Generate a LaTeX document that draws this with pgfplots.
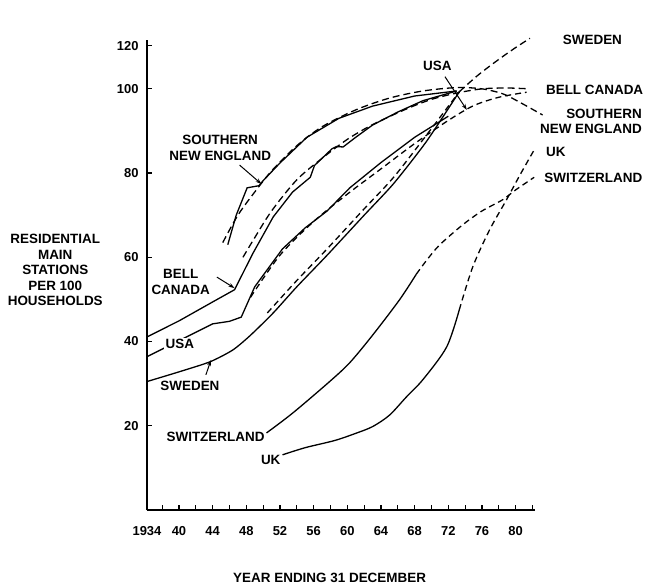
\documentclass[border=0pt]{standalone}
\usepackage{pgfplots}
\pgfplotsset{compat=1.18}
\usepackage{fontspec}
\setmainfont{Liberation Sans}
\usetikzlibrary{arrows.meta}
\begin{document}
\begin{tikzpicture}[font=\bfseries\fontsize{13.5}{15.5}\selectfont]
\useasboundingbox (-147bp,-77bp) rectangle (505bp,510bp);
\begin{axis}[
  at={(0,0)}, anchor=south west,
  scale only axis, width=388bp, height=470bp,
  xmin=1936.2, xmax=1982.3, ymin=0, ymax=111.6,
  axis x line*=bottom, axis y line*=left,
  axis line style={line width=1.3bp},
  clip=false,
  xtick={1936.2,1940,1944,1948,1952,1956,1960,1964,1968,1972,1976,1980},
  xticklabels={1934,40,44,48,52,56,60,64,68,72,76,80},
  minor xtick={1938,1942,1946,1950,1954,1958,1962,1966,1970,1974,1978,1982},
  ytick={20,40,60,80,100,110.2},
  yticklabels={20,40,60,80,100,120},
  tick align=inside,
  major tick length=5bp, minor tick length=5bp,
  every tick/.style={black, line width=1.2bp},
  xticklabel style={yshift=-13bp, font=\bfseries\fontsize{13}{15}\selectfont},
  yticklabel style={xshift=-5bp, font=\bfseries\fontsize{13}{15}\selectfont},
  cycle list={{black,solid}},
  every axis plot/.append style={black, line width=1.3bp, no markers},
]
% ---------- Sweden ----------
\addplot[solid, smooth, tension=0.4] coordinates {(1936.2,30.5) (1940,32.8) (1943.7,35.2) (1946.4,38) (1948.5,41.5) (1951.2,46.8) (1954,53) (1957.6,60.5) (1962,70) (1965.5,77.5) (1969.4,87.5) (1973.3,99.3)};
\addplot[dash pattern=on 6bp off 4bp, smooth] coordinates {(1950.5,46.8) (1954,54.5) (1957.6,62) (1962,71.5) (1965.5,79) (1969.4,89) (1973.3,99.3)};
\addplot[dash pattern=on 7bp off 4bp, smooth] coordinates {(1973.3,99.3) (1975.5,103.2) (1978,107) (1980,109.8) (1981.7,112)};
% ---------- USA ----------
\addplot[solid] coordinates {(1936.2,36.4) (1940,40.2) (1944,44.2) (1946,44.8) (1947.4,45.8) (1949,53) (1952.3,62) (1955,67) (1957.6,71) (1960.3,76.5) (1964,82.5) (1968,88.5) (1972,93.5)};
\addplot[dash pattern=on 6bp off 4bp, smooth] coordinates {(1948.5,50.5) (1952,60.5) (1956,68.5) (1960,75) (1964,81) (1968,87) (1972,92.5) (1975,96) (1978,98) (1981.3,99.2)};
% ---------- Bell Canada ----------
\addplot[solid] coordinates {(1936.2,41.1) (1940,44.9) (1944,49.4) (1946.6,52.3) (1948.8,61) (1951.2,69.6) (1953.5,75.5) (1955.6,79) (1956.1,81.8) (1958.2,85.8) (1958.7,86.3) (1959.5,86.2) (1961,88.5) (1963,91.4) (1966,94.5) (1969,97.2) (1973,99.5)};
\addplot[dash pattern=on 7bp off 4bp, smooth] coordinates {(1947.6,60) (1948.8,64) (1951,71) (1954,78.4) (1957,83.5) (1960,88) (1963,91.5) (1967,95.2) (1970,97.5) (1973,99) (1976,100) (1979,100.2) (1981.6,100)};
% ---------- Southern New England ----------
\addplot[solid] coordinates {(1945.8,63) (1946.8,70) (1948.1,76.5) (1949.5,77) (1950,78.2) (1952,82.4) (1955.2,88.5) (1959,93) (1963,95.9) (1968,98.3) (1973,99.5)};
\addplot[dash pattern=on 7bp off 4bp, smooth] coordinates {(1945.2,63.5) (1947,70) (1949,75.5) (1951,80.5) (1954,86.5) (1957,91) (1961,95) (1965,97.8) (1969,99.5) (1973,100.3) (1976,100) (1978.5,98.8) (1980.5,96.8) (1983.2,93.8)};
% ---------- Switzerland ----------
\addplot[solid, smooth] coordinates {(1950.4,18.3) (1953.5,23) (1957.9,30.5) (1960.3,35) (1963,41.5) (1966.2,49.9) (1968.2,56)};
\addplot[dash pattern=on 6bp off 4bp, smooth] coordinates {(1968.2,56) (1969.5,59.5) (1971,63) (1973.7,67.7) (1976,71) (1978.4,73.6) (1980,76) (1982.2,79)};
% ---------- UK ----------
\addplot[solid, smooth] coordinates {(1952.3,13.1) (1955,14.8) (1958.5,16.5) (1961,18.2) (1963,19.8) (1965,22.5) (1967,26.8) (1969,31) (1971.8,38.7) (1973.3,47.5)};
\addplot[dash pattern=on 6bp off 4bp, smooth] coordinates {(1973.3,47.5) (1974.9,57.7) (1976.9,66.5) (1978.9,73.6) (1980.5,79.5) (1982.2,85.5)};
% ---------- labels ----------
\node[align=center] at (axis cs:1944.9,86) {SOUTHERN\\NEW ENGLAND};
\draw[line width=1bp,-{Stealth[length=6bp,width=4bp]}] (axis cs:1947.2,81.9) -- (axis cs:1949.8,77.4);
\node[align=center] at (axis cs:1940.2,54.2) {BELL\\CANADA};
\draw[line width=1bp,-{Stealth[length=6bp,width=4bp]}] (axis cs:1944.5,55.3) -- (axis cs:1946.6,52.7);
\node[fill=white, inner sep=1.5bp] at (axis cs:1940.1,39.4) {USA};
\node at (axis cs:1941.3,29.5) {SWEDEN};
\draw[line width=1bp,-{Stealth[length=6bp,width=4bp]}] (axis cs:1943.2,32.1) -- (axis cs:1943.8,35.6);
\node[anchor=east, inner sep=1bp] at (axis cs:1950.3,17.3) {SWITZERLAND};
\node[anchor=east, inner sep=1bp] at (axis cs:1952.2,11.9) {UK};
\node at (axis cs:1970.7,105.5) {USA};
\draw[line width=1bp,-{Stealth[length=6bp,width=4bp]}] (axis cs:1971.6,102.9) -- (axis cs:1974.2,95);
\node[anchor=west] at (axis cs:1985.2,111.6) {SWEDEN};
\node[anchor=west] at (axis cs:1983.2,99.8) {BELL CANADA};
\node[anchor=east, align=right] at (axis cs:1995.4,92.3) {SOUTHERN\\NEW ENGLAND};
\node[anchor=west] at (axis cs:1983.2,85) {UK};
\node[anchor=west] at (axis cs:1983.0,78.9) {SWITZERLAND};
\node[align=center] at (axis cs:1925.3,57) {RESIDENTIAL\\MAIN\\STATIONS\\PER 100\\HOUSEHOLDS};
\node at (axis cs:1957.9,-16.2) {YEAR ENDING 31 DECEMBER};
\end{axis}
\end{tikzpicture}
\end{document}
